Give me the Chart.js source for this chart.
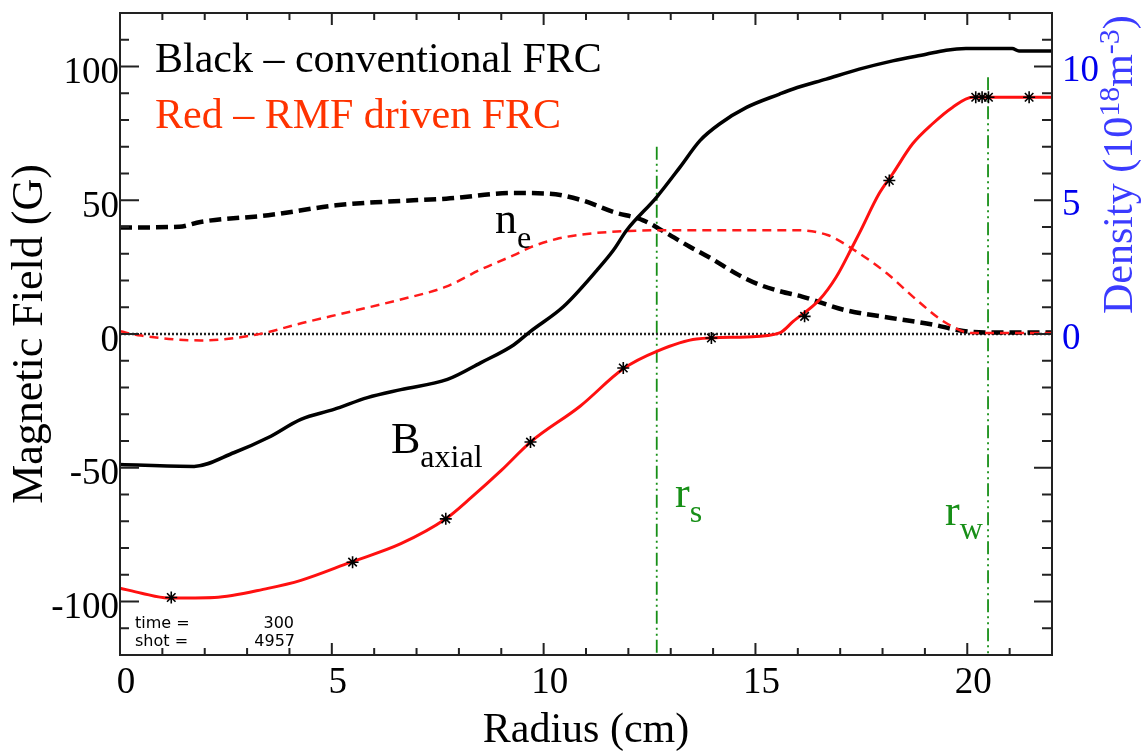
<!DOCTYPE html>
<html>
<head>
<meta charset="utf-8">
<script src="https://cdn.jsdelivr.net/npm/chart.js@4.4.1/dist/chart.umd.min.js"></script>
<style>
  html, body { margin: 0; padding: 0; background: #fff; }
  canvas { display: block; }
</style>
</head>
<body>
<canvas id="frc" width="1146" height="756"></canvas>
<script>
// Data (radius in cm, field in G, density in 1e18 m^-3)
const convBR = [0, 1.75, 2.7, 3.5, 4.27, 5.05, 5.84, 6.63, 7.73, 8.51, 9.3, 9.69, 10.47, 11.26, 11.65, 11.96, 12.67, 13.22, 13.69, 14.16, 14.79, 15.57, 15.89, 16.67, 17.45, 18.24, 19.03, 19.5, 19.97, 21.06, 21.22, 22];
const convB = [-48.8, -49.5, -44.3, -38.7, -31.9, -28.2, -23.8, -20.8, -17.0, -10.8, -4.0, 1.0, 10.3, 23.9, 31.4, 38.8, 51.2, 62.4, 72.3, 78.6, 84.7, 89.7, 91.6, 95.3, 99.0, 102.1, 104.6, 106.1, 106.7, 106.7, 105.8, 105.8];

const rmfBR = [0, 0.51, 1.13, 2.23, 3.49, 4.27, 5.45, 6.63, 7.69, 8.3, 9.0, 9.69, 10.86, 11.88, 12.67, 13.61, 14.79, 15.57, 15.89, 16.51, 16.91, 17.3, 17.45, 17.92, 18.24, 18.71, 19.18, 19.65, 20.12, 22];
const rmfB = [-95, -96.9, -98.7, -98.5, -95.1, -92.1, -85.3, -78.4, -69.1, -61.0, -51.0, -40.4, -27.0, -13.0, -6.5, -1.9, -1.1, 0.4, 4.7, 12.8, 21.4, 33.0, 37.6, 52.5, 59.9, 71.1, 78.6, 84.7, 88.5, 88.5];

const probeR = [1.21, 5.49, 7.69, 9.69, 11.88, 13.96, 16.16, 18.16, 20.2, 20.35, 20.5, 21.46];
const probeB = [-98.5, -85.3, -69.1, -40.4, -12.7, -1.5, 6.6, 57.4, 88.5, 88.5, 88.5, 88.5];

const convNeR = [0, 1.4, 1.9, 3.5, 5.1, 6.2, 7.7, 9.3, 10.1, 10.9, 11.65, 12.35, 12.85, 13.45, 13.95, 14.6, 15.1, 15.6, 16.1, 17.1, 18.2, 19.2, 19.8, 20.4, 22];
const convNe = [3.98, 4.01, 4.19, 4.44, 4.81, 4.94, 5.06, 5.27, 5.25, 5.0, 4.56, 4.25, 3.82, 3.26, 2.83, 2.21, 1.84, 1.59, 1.40, 0.90, 0.60, 0.35, 0.14, 0.06, 0.06];

const rmfNeR = [0, 0.5, 1.9, 3.2, 4.3, 5.45, 6.6, 7.7, 8.5, 9.3, 9.7, 10.3, 10.9, 12.0, 13.0, 14.0, 15.1, 15.9, 16.7, 17.3, 18.1, 18.8, 19.5, 20.1, 22];
const rmfNe = [0.10, -0.06, -0.24, -0.03, 0.41, 0.84, 1.28, 1.77, 2.4, 2.95, 3.25, 3.55, 3.72, 3.85, 3.88, 3.88, 3.88, 3.88, 3.70, 3.17, 2.27, 1.28, 0.41, 0.04, 0.04];

const zeroR = [0, 22];
const zeroB = [0, 0];

const rsR = [12.67, 12.67];
const rsB = [70, -120];
const rwR = [20.49, 20.49];
const rwB = [96, -120];

const xTickValues = [0, 5, 10, 15, 20];
const yTickValues = [-100, -50, 0, 50, 100];
const y2TickValues = [0, 5, 10];

const pts = (xs, ys) => xs.map((x, i) => ({ x: x, y: ys[i] }));

const serif = 'Liberation Serif, Times New Roman, serif';
const green = '#178f17';

function subText(ctx, base, sub, x, y, size, subSize, drop) {
  ctx.font = size + 'px ' + serif;
  ctx.fillText(base, x, y);
  const w = ctx.measureText(base).width;
  ctx.font = subSize + 'px ' + serif;
  ctx.fillText(sub, x + w, y + drop);
}

const framePlugin = {
  id: 'frame',
  afterDatasetsDraw(chart) {
    const { ctx, chartArea: a, scales } = chart;
    ctx.save();
    ctx.strokeStyle = '#222';
    ctx.lineWidth = 2;
    ctx.strokeRect(a.left, a.top, a.right - a.left, a.bottom - a.top);
    ctx.beginPath();
    for (let v = 0; v <= 22; v++) {
      const px = scales.x.getPixelForValue(v);
      const len = v % 5 === 0 ? 12 : 7;
      ctx.moveTo(px, a.bottom); ctx.lineTo(px, a.bottom - len);
      ctx.moveTo(px, a.top); ctx.lineTo(px, a.top + len);
    }
    for (let v = -120; v <= 120; v += 10) {
      const py = scales.y.getPixelForValue(v);
      ctx.moveTo(a.left, py); ctx.lineTo(a.left + (v % 50 === 0 ? 19 : 9), py);
    }
    for (let v = -12; v <= 12; v++) {
      const py = scales.y2.getPixelForValue(v);
      ctx.moveTo(a.right, py); ctx.lineTo(a.right - (v % 5 === 0 ? 18 : 10), py);
    }
    ctx.stroke();
    ctx.restore();
  },
  afterDraw(chart) {
    const ctx = chart.ctx;
    ctx.save();
    ctx.textBaseline = 'alphabetic';
    ctx.textAlign = 'left';

    ctx.font = '42px ' + serif;
    ctx.fillStyle = '#000';
    ctx.fillText('Black \u2013 conventional FRC', 155, 72);
    ctx.fillStyle = '#ff3300';
    ctx.fillText('Red \u2013 RMF driven FRC', 155, 128);

    ctx.fillStyle = '#000';
    subText(ctx, 'n', 'e', 495, 233, 44, 32, 15);
    subText(ctx, 'B', 'axial', 391, 453, 44, 32, 14);

    ctx.fillStyle = green;
    subText(ctx, 'r', 's', 675, 507, 44, 32, 15);
    subText(ctx, 'r', 'w', 945, 525, 44, 32, 14);

    // run info
    ctx.fillStyle = '#000';
    ctx.font = '16px DejaVu Sans, sans-serif';
    ctx.fillText('time =', 135, 628);
    ctx.fillText('shot =', 135, 646);
    ctx.textAlign = 'right';
    ctx.fillText('300', 294, 628);
    ctx.fillText('4957', 295, 646);

    // right axis title with superscripts
    ctx.textAlign = 'left';
    ctx.fillStyle = '#3b3bff';
    ctx.translate(1132, 314);
    ctx.rotate(-Math.PI / 2);
    let x = 0;
    const part = (t, size, rise) => {
      ctx.font = size + 'px ' + serif;
      ctx.fillText(t, x, -rise);
      x += ctx.measureText(t).width;
    };
    part('Density (10', 42, 0);
    part('18', 30, 13);
    part('m', 42, 0);
    part('-3', 30, 13);
    part(')', 42, 0);
    ctx.restore();
  }
};

const tickFont = { family: serif, size: 37 };

new Chart(document.getElementById('frc').getContext('2d'), {
  type: 'line',
  data: {
    datasets: [
      {
        label: 'probes',
        data: pts(probeR, probeB),
        showLine: false,
        pointStyle: 'star',
        pointRadius: 6,
        pointBorderColor: '#000',
        pointBackgroundColor: '#000',
        pointBorderWidth: 1.6
      },
      {
        label: 'B axial RMF',
        data: pts(rmfBR, rmfB),
        borderColor: '#ff1010',
        borderWidth: 3,
        pointRadius: 0,
        cubicInterpolationMode: 'monotone'
      },
      {
        label: 'B axial conventional',
        data: pts(convBR, convB),
        borderColor: '#000',
        borderWidth: 3.5,
        pointRadius: 0,
        cubicInterpolationMode: 'monotone'
      },
      {
        label: 'ne RMF',
        data: pts(rmfNeR, rmfNe),
        yAxisID: 'y2',
        borderColor: '#ff1a1a',
        borderWidth: 2.5,
        borderDash: [9, 6],
        pointRadius: 0,
        cubicInterpolationMode: 'monotone'
      },
      {
        label: 'ne conventional',
        data: pts(convNeR, convNe),
        yAxisID: 'y2',
        borderColor: '#000',
        borderWidth: 4.5,
        borderDash: [12, 6],
        pointRadius: 0,
        cubicInterpolationMode: 'monotone'
      },
      {
        label: 'zero',
        data: pts(zeroR, zeroB),
        borderColor: '#222',
        borderWidth: 2.5,
        borderDash: [2, 2],
        pointRadius: 0
      },
      {
        label: 'rs',
        data: pts(rsR, rsB),
        borderColor: green,
        borderWidth: 1.8,
        borderDash: [13, 4, 2, 4, 2, 4],
        pointRadius: 0
      },
      {
        label: 'rw',
        data: pts(rwR, rwB),
        borderColor: green,
        borderWidth: 1.8,
        borderDash: [13, 4, 2, 4, 2, 4],
        pointRadius: 0
      }
    ]
  },
  options: {
    responsive: false,
    animation: false,
    devicePixelRatio: 1,
    layout: { padding: { top: 13, left: 0, right: 0, bottom: 0 } },
    plugins: {
      legend: { display: false },
      tooltip: { enabled: false }
    },
    scales: {
      x: {
        type: 'linear',
        position: 'bottom',
        min: 0,
        max: 22,
        afterBuildTicks: s => { s.ticks = xTickValues.map(v => ({ value: v })); },
        afterFit: s => { s.height = 101; s.paddingLeft = 0; s.paddingRight = 0; },
        grid: { display: false, drawTicks: false },
        border: { display: false },
        ticks: { font: tickFont, color: '#000', padding: 6, labelOffset: 6, maxRotation: 0, autoSkip: false },
        title: { display: true, text: 'Radius (cm)', color: '#000', font: { family: serif, size: 42 }, padding: 0 }
      },
      y: {
        position: 'left',
        min: -120,
        max: 120,
        afterBuildTicks: s => { s.ticks = yTickValues.map(v => ({ value: v })); },
        afterFit: s => { s.width = 120; s.paddingTop = 0; s.paddingBottom = 0; },
        grid: { display: false, drawTicks: false },
        border: { display: false },
        ticks: { font: tickFont, color: '#000', padding: 1, labelOffset: 7, autoSkip: false },
        title: { display: true, text: 'Magnetic Field (G)', color: '#000', font: { family: serif, size: 44 }, padding: { top: 4, bottom: 0 } }
      },
      y2: {
        position: 'right',
        min: -12,
        max: 12,
        afterBuildTicks: s => { s.ticks = y2TickValues.map(v => ({ value: v })); },
        afterFit: s => { s.width = 94; s.paddingTop = 0; s.paddingBottom = 0; },
        grid: { display: false, drawTicks: false },
        border: { display: false },
        ticks: { font: tickFont, color: '#0000ee', padding: 10, labelOffset: 5, autoSkip: false }
      }
    }
  },
  plugins: [framePlugin]
});
</script>
</body>
</html>
